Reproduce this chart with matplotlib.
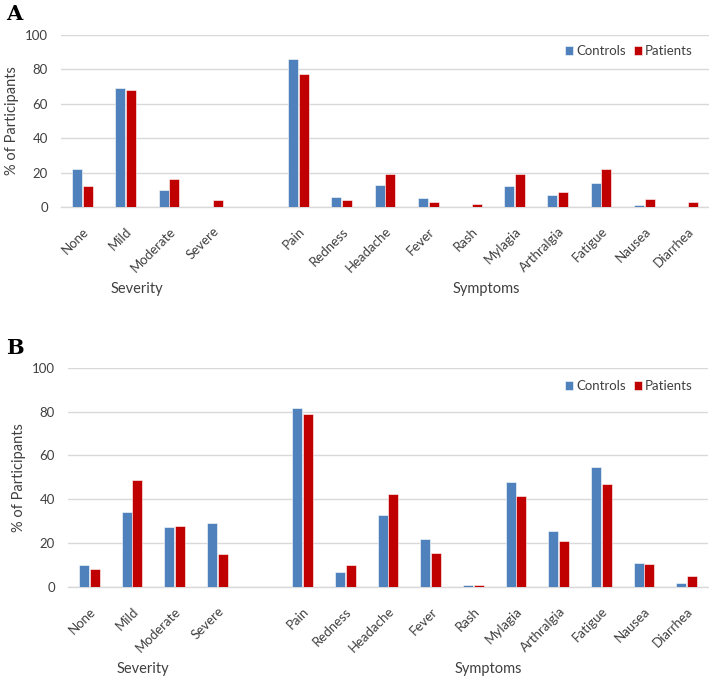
import numpy as np
import matplotlib.pyplot as plt
from matplotlib.transforms import blended_transform_factory

categories = ["None", "Mild", "Moderate", "Severe", "",
              "Pain", "Redness", "Headache", "Fever", "Rash",
              "Mylagia", "Arthralgia", "Fatigue", "Nausea", "Diarrhea"]

# panel A
controls_a = [22, 69, 10, 0, 0, 86, 6, 12.8, 5.2, 0, 12, 7, 13.8, 1, 0]
patients_a = [12, 68, 16, 4.2, 0, 77.5, 3.9, 19.2, 3, 1.7, 19, 8.7, 22.3, 4.4, 2.8]

# panel B
controls_b = [10, 34, 27.2, 29, 0, 81.8, 6.7, 33, 21.9, 0.9, 48, 25.4, 54.9, 11.1, 1.7]
patients_b = [8, 49, 28, 15.2, 0, 79, 10, 42.4, 15.4, 0.9, 41.5, 21, 46.8, 10.6, 5]

group_labels = ["Severity", "Symptoms"]
group_x = [1.25, 9.35]

BLUE = "#4F81BD"
RED = "#C00000"
FONT = ["Lato", "DejaVu Sans"]

plt.rcParams["font.family"] = FONT

fig = plt.figure(figsize=(7.09, 6.78), dpi=100)
W, H = 709, 678


def draw_panel(left, right, top, bottom, ctrl, pat, letter, letter_y, leg_y):
    aw = right - left
    ax = fig.add_axes([left / W, 1 - bottom / H, aw / W, (bottom - top) / H])
    x = np.arange(len(categories))
    ax.bar(x - 0.125, ctrl, width=0.23, color=BLUE, edgecolor="white",
           linewidth=0.4, label="Controls", zorder=3)
    ax.bar(x + 0.125, pat, width=0.23, color=RED, edgecolor="white",
           linewidth=0.4, label="Patients", zorder=3)
    ax.set_xlim(-0.5, len(categories) - 0.5)
    ax.set_ylim(0, 100)
    ax.set_yticks([0, 20, 40, 60, 80, 100])
    ax.tick_params(axis="y", length=0, labelsize=9.5, colors="#404040", pad=9.4)
    ax.set_xticks(x)
    ax.set_xticklabels(categories, rotation=45, ha="right",
                       rotation_mode="anchor", fontsize=9.5, color="#404040")
    ax.tick_params(axis="x", length=0, pad=13)
    ax.grid(axis="y", color="#D9D9D9", linewidth=1, zorder=0)
    for s in ["top", "right", "left"]:
        ax.spines[s].set_visible(False)
    ax.spines["bottom"].set_color("#D9D9D9")
    ax.spines["bottom"].set_linewidth(1)
    ax.set_ylabel("% of Participants", fontsize=10.5, color="#404040")
    ax.yaxis.set_label_coords(-42 / aw, 0.5)

    # group captions under the tick labels
    tr = blended_transform_factory(ax.transData, ax.transAxes)
    for lab, gx in zip(group_labels, group_x):
        ax.annotate(lab, xy=(gx, 0), xycoords=tr, xytext=(0, -82),
                    textcoords="offset pixels", ha="center", va="center",
                    fontsize=10.5, color="#404040")

    leg_x = (698 - left) / aw
    leg_yf = 1 - (leg_y - top) / (bottom - top)
    leg = ax.legend(loc="center right", bbox_to_anchor=(leg_x, leg_yf),
                    ncol=2, frameon=False, fontsize=9.5, handlelength=0.6,
                    handleheight=0.6, handletextpad=0.25, columnspacing=0.6,
                    borderaxespad=0)
    for t in leg.get_texts():
        t.set_color("#404040")

    fig.text(6 / W, 1 - letter_y / H, letter, fontsize=15, fontweight="bold",
             family=["DejaVu Serif"], ha="left", va="center")


draw_panel(61, 709, 35, 207, controls_a, patients_a, "A", 14, 51)
draw_panel(68, 708, 367.7, 587, controls_b, patients_b, "B", 348, 386)

fig.savefig("out.png", dpi=100)
